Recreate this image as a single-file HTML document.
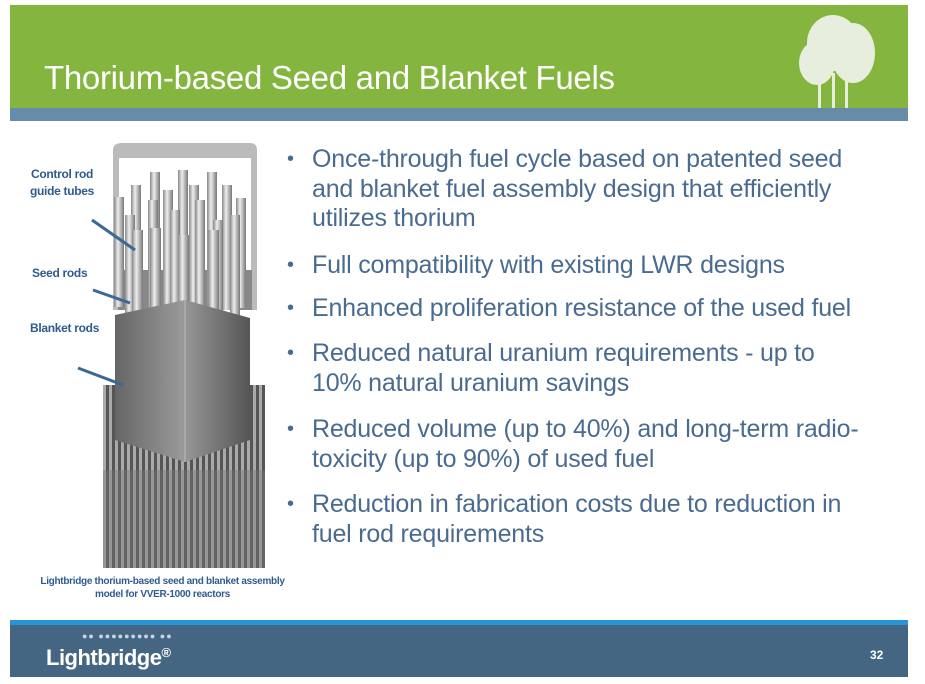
<!DOCTYPE html>
<html><head><meta charset="utf-8"><style>
body{margin:0;width:925px;height:684px;background:#fff;position:relative;overflow:hidden;font-family:"Liberation Sans",sans-serif}
.g{position:absolute;left:10px;top:5px;width:898px;height:103px;background:#84b53f}
.s{position:absolute;left:10px;top:108px;width:898px;height:13px;background:#668ca9}
h1{position:absolute;left:44px;top:59px;margin:0;font-weight:normal;color:#fff;font-size:33px;letter-spacing:-0.3px}
.b{position:absolute;left:287px;color:#4a6b90;font-size:25px;line-height:29.5px}
.b span{position:absolute;left:0;font-size:20px}
.b div{margin-left:25px;white-space:nowrap;letter-spacing:-0.2px}
.lab{position:absolute;color:#2f5b8f;font-size:12px;font-weight:bold;text-align:center;letter-spacing:-0.3px}
.f1{position:absolute;left:10px;top:620px;width:898px;height:5px;background:#2a93d5}
.f2{position:absolute;left:10px;top:625px;width:898px;height:52px;background:#456683}
</style></head><body>
<div class="g"></div><div class="s"></div>
<h1>Thorium-based Seed and Blanket Fuels</h1>
<svg style="position:absolute;left:785px;top:8px" width="110" height="100"><g fill="#eef2e6" opacity="0.95"><ellipse cx="48" cy="35" rx="26" ry="28"/><ellipse cx="68" cy="45" rx="22" ry="30"/><ellipse cx="32" cy="55" rx="18" ry="22"/><rect x="33" y="65" width="3" height="35"/><rect x="47" y="65" width="3" height="35"/><rect x="60" y="70" width="3" height="30"/></g></svg>

<svg style="position:absolute;left:0;top:0" width="290" height="600">
<defs>
<linearGradient id="t" x1="0" x2="1"><stop offset="0" stop-color="#888"/><stop offset=".4" stop-color="#eee"/><stop offset="1" stop-color="#777"/></linearGradient>
<linearGradient id="sh" x1="0" x2="1"><stop offset="0" stop-color="#666"/><stop offset=".5" stop-color="#999"/><stop offset="1" stop-color="#555"/></linearGradient>
<pattern id="rods" width="6" height="10" patternUnits="userSpaceOnUse"><rect width="6" height="10" fill="#555"/><rect x="1" width="3" height="10" fill="#aaa"/></pattern>
</defs>
<rect x="103" y="385" width="162" height="183" fill="url(#rods)"/>
<rect x="103" y="470" width="162" height="98" fill="#777" opacity=".4"/>
<path d="M113 150 Q113 143 122 143 L250 143 Q257 143 257 150 L257 310 L113 310 Z" fill="#bbb"/>
<rect x="119" y="158" width="132" height="150" fill="#fff"/>
<rect x="118" y="270" width="134" height="40" fill="#888"/>
<g fill="url(#t)">
<rect x="114" y="197" width="10" height="110"/><rect x="131" y="185" width="10" height="120"/><rect x="150" y="172" width="10" height="140"/><rect x="163" y="190" width="10" height="120"/><rect x="178" y="170" width="10" height="145"/><rect x="189" y="185" width="10" height="125"/><rect x="207" y="172" width="10" height="140"/><rect x="222" y="185" width="10" height="125"/><rect x="236" y="198" width="10" height="110"/>
<rect x="125" y="215" width="10" height="100"/><rect x="148" y="200" width="10" height="110"/><rect x="170" y="210" width="10" height="110"/><rect x="195" y="200" width="10" height="110"/><rect x="213" y="220" width="10" height="95"/><rect x="230" y="215" width="10" height="100"/>
<rect x="132" y="230" width="11" height="85"/><rect x="150" y="228" width="11" height="90"/><rect x="178" y="235" width="11" height="95"/><rect x="208" y="230" width="11" height="90"/>
</g>
<path d="M115 315 L185 300 L250 318 L250 440 L185 462 L115 440 Z" fill="url(#sh)"/>
<path d="M185 300 L185 462" stroke="#aaa" stroke-width="2"/>
<g stroke="#3b6995" stroke-width="3"><line x1="92" y1="220" x2="135" y2="250"/><line x1="93" y1="290" x2="130" y2="303"/><line x1="78" y1="368" x2="123" y2="385"/></g>
</svg>
<div class="lab" style="left:30px;top:166px;line-height:17px">Control rod<br>guide tubes</div>
<div class="lab" style="left:32px;top:266px">Seed rods</div>
<div class="lab" style="left:30px;top:321px">Blanket rods</div>
<div class="lab" style="left:35px;top:575px;width:255px;font-size:10px;line-height:13px">Lightbridge thorium-based seed and blanket assembly<br>model for VVER-1000 reactors</div>

<div class="b" style="top:145px"><span>•</span><div>Once-through fuel cycle based on patented seed<br>and blanket fuel assembly design that efficiently<br>utilizes thorium</div></div>
<div class="b" style="top:251px"><span>•</span><div>Full compatibility with existing LWR designs</div></div>
<div class="b" style="top:294px"><span>•</span><div>Enhanced proliferation resistance of the used fuel</div></div>
<div class="b" style="top:339px"><span>•</span><div>Reduced natural uranium requirements - up to<br>10% natural uranium savings</div></div>
<div class="b" style="top:415px"><span>•</span><div>Reduced volume (up to 40%) and long-term radio-<br>toxicity (up to 90%) of used fuel</div></div>
<div class="b" style="top:490px"><span>•</span><div>Reduction in fabrication costs due to reduction in<br>fuel rod requirements</div></div>

<div class="f1"></div><div class="f2"></div>
<div style="position:absolute;left:82px;top:631px;color:#c9d4df;font-size:9px;letter-spacing:1px">●● ●●●●●●●●● ●●</div>
<div style="position:absolute;left:46px;top:645px;color:#fff;font-size:22px;font-weight:bold;letter-spacing:-0.5px">Lightbridge<span style="font-size:13px;vertical-align:top">®</span></div>
<div style="position:absolute;left:870px;top:648px;color:#fff;font-size:12px;font-weight:bold">32</div>
</body></html>
